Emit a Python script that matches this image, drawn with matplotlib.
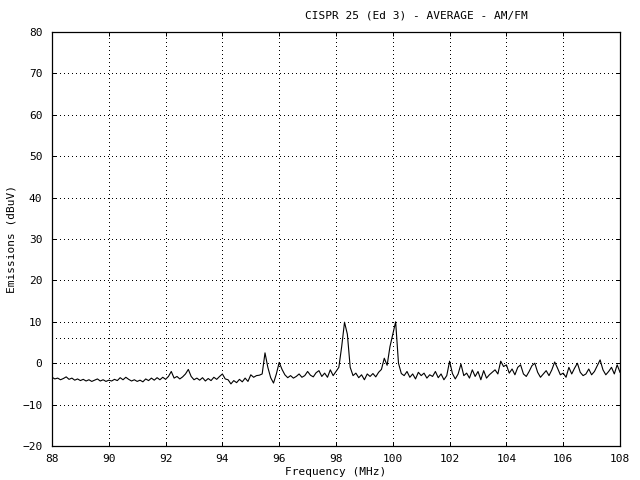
import numpy as np
import matplotlib
matplotlib.use('Agg')
import matplotlib.pyplot as plt

# sweep settings (MHz)
f_start = 88.0
f_stop = 108.0
n_points = 201

# average detector reading (dBuV), one value per 0.1 MHz
emissions = [
    -3.4, -3.8, -3.6, -4.0, -3.7, -3.3, -3.9, -3.6, -4.1, -3.8,   # 88
    -4.2, -3.9, -4.3, -4.0, -4.4, -4.1, -3.8, -4.3, -4.0, -4.4,   # 89
    -4.1, -4.3, -3.9, -4.2, -3.5, -4.0, -3.4, -3.9, -4.3, -4.0,   # 90
    -4.4, -4.1, -4.5, -3.8, -4.2, -3.6, -4.1, -3.5, -4.0, -3.4,   # 91
    -3.9, -3.2, -2.0, -3.6, -3.2, -3.8, -3.3, -2.6, -1.5, -3.2,   # 92
    -4.0, -3.6, -4.1, -3.5, -4.3, -3.7, -4.2, -3.4, -3.9, -3.2,   # 93
    -2.6, -3.8, -4.0, -5.0, -4.2, -4.7, -3.9, -4.5, -3.6, -4.4,   # 94
    -2.8, -3.4, -3.0, -2.9, -2.6, 2.5, -1.0, -3.5, -4.8, -2.6,    # 95
    0.2, -1.5, -2.8, -3.5, -3.0, -3.6, -3.2, -2.6, -3.4, -3.0,    # 96
    -2.0, -2.9, -3.3, -2.3, -1.8, -3.2, -2.4, -3.4, -1.6, -3.0,   # 97
    -2.0, -1.0, 4.0, 9.9, 7.0, -1.0, -3.0, -2.4, -3.5, -2.8,      # 98
    -4.0, -2.6, -3.2, -2.5, -3.3, -2.2, -1.5, 1.2, -0.5, 4.0,     # 99
    7.0, 10.0, 0.0, -2.5, -3.0, -2.0, -3.4, -2.6, -3.8, -2.2,     # 100
    -3.0, -2.4, -3.6, -2.8, -3.2, -2.0, -3.5, -2.6, -4.0, -3.0,   # 101
    0.5, -2.5, -3.8, -2.6, -0.2, -3.0, -2.4, -3.6, -1.6, -3.2,    # 102
    -2.0, -4.0, -1.8, -3.6, -2.8, -2.2, -1.6, -2.6, 0.5, -0.8,    # 103
    -0.4, -2.4, -1.4, -2.8, -1.0, -0.4, -2.6, -3.2, -2.0, -0.6,   # 104
    0.0, -2.2, -3.4, -2.6, -1.8, -3.0, -1.6, 0.3, -1.2, -2.8,     # 105
    -2.4, -3.4, -1.0, -2.6, -1.2, 0.0, -2.2, -3.0, -2.6, -1.4,    # 106
    -2.8, -2.0, -0.6, 0.8, -1.6, -2.8, -2.0, -1.0, -2.6, -0.4,    # 107
    -2.2,                                                         # 108
]

limit_dbuv = 6

x_ticks = [88, 90, 92, 94, 96, 98, 100, 102, 104, 106, 108]
y_ticks = [-20, -10, 0, 10, 20, 30, 40, 50, 60, 70, 80]

freq = np.linspace(f_start, f_stop, n_points)

plt.rcParams['font.family'] = ['DejaVu Sans Mono']
plt.rcParams['font.size'] = 8

fig = plt.figure(figsize=(6.4, 4.8), dpi=100)
ax = fig.add_axes([52/640, 1 - 446/480, 568/640, 414/480])

# gnuplot-ish 1px dotted grid, no antialiasing so dots stay crisp
dots = (0, (0.8, 3.2))
ax.grid(True, color='black', linestyle=dots, linewidth=0.72, antialiased=False)
ax.axhline(limit_dbuv, color='black', linestyle=dots, linewidth=0.72, antialiased=False)
ax.plot(freq, emissions, color='black', linewidth=0.8)

ax.set_xlim(f_start, f_stop)
ax.set_ylim(-20, 80)
ax.set_xticks(x_ticks)
ax.set_yticks(y_ticks)
ax.tick_params(direction='in', length=3, width=0.72, top=True, right=True, colors='black')
ax.tick_params(axis='y', pad=7)
ax.tick_params(axis='x', pad=6)
for s in ax.spines.values():
    s.set_linewidth(0.9)
    s.set_color('black')

fig.text(416/640, 1 - 15/480, 'CISPR 25 (Ed 3) - AVERAGE - AM/FM', ha='center', va='center')
fig.text(336/640, 1 - 472/480, 'Frequency (MHz)', ha='center', va='center')
fig.text(12/640, 1 - 239/480, 'Emissions (dBuV)', ha='center', va='center', rotation=90)

fig.savefig('out.png', dpi=100)
